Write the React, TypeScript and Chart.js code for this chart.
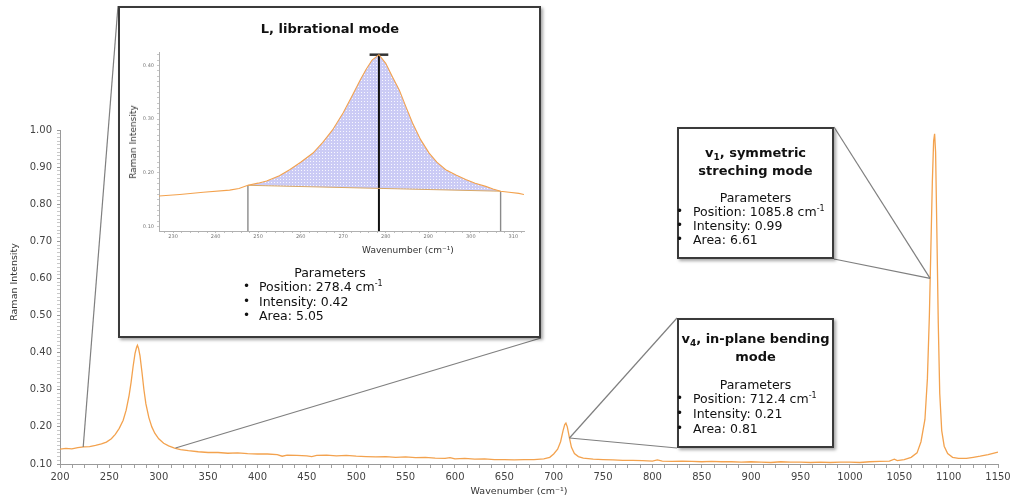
import React, { useEffect, useRef } from "react";
import { Chart, registerables } from "chart.js";

Chart.register(...registerables);

// Full Raman spectrum (wavenumber in cm⁻¹, intensity)
const wavenumbers = [
  200, 206, 212, 218, 224, 230, 236, 242, 247, 252, 256, 260, 264, 267, 270, 272, 274, 276, 277.5, 278.4,
  279.5, 281, 283, 285, 287, 290, 293, 296, 300, 305, 310, 316, 322, 330, 340, 350, 360, 370, 380, 390,
  400, 410, 420, 425, 430, 440, 450, 455, 460, 470, 480, 490, 500, 510, 520, 530, 540, 550, 560, 570,
  580, 590, 595, 600, 610, 620, 630, 640, 650, 660, 670, 680, 690, 696, 700, 704, 707, 709.5, 711.2, 712.4,
  713.8, 716, 718, 721, 725, 730, 740, 750, 760, 770, 780, 790, 800, 805, 810, 820, 830, 840, 850, 860,
  870, 880, 890, 900, 910, 920, 930, 940, 950, 960, 970, 980, 990, 1000, 1010, 1020, 1030, 1040, 1045, 1048,
  1055, 1062, 1068, 1072, 1076, 1078.5, 1080.5, 1082, 1083.5, 1084.8, 1085.8, 1086.8, 1088, 1089.5, 1091, 1093, 1095.5, 1099, 1104, 1110,
  1118, 1125, 1132, 1140, 1150,
];
const intensities = [
  0.140, 0.142, 0.141, 0.144, 0.146, 0.147, 0.150, 0.154, 0.159, 0.168, 0.180, 0.196, 0.218, 0.245, 0.285, 0.320, 0.362, 0.398, 0.414, 0.420,
  0.412, 0.392, 0.348, 0.300, 0.262, 0.225, 0.200, 0.183, 0.168, 0.156, 0.149, 0.143, 0.139, 0.136, 0.133, 0.131, 0.131, 0.129, 0.130, 0.128,
  0.127, 0.127, 0.125, 0.121, 0.124, 0.123, 0.122, 0.120, 0.123, 0.124, 0.122, 0.123, 0.121, 0.120, 0.119, 0.120, 0.118, 0.119, 0.117, 0.118,
  0.116, 0.115, 0.117, 0.114, 0.115, 0.113, 0.114, 0.112, 0.112, 0.111, 0.112, 0.112, 0.114, 0.118, 0.127, 0.140, 0.160, 0.190, 0.206, 0.210,
  0.200, 0.170, 0.145, 0.128, 0.120, 0.116, 0.113, 0.112, 0.111, 0.110, 0.110, 0.109, 0.108, 0.111, 0.108, 0.107, 0.108, 0.107, 0.106, 0.107,
  0.106, 0.106, 0.105, 0.106, 0.105, 0.104, 0.106, 0.105, 0.105, 0.104, 0.105, 0.104, 0.105, 0.105, 0.104, 0.106, 0.107, 0.108, 0.113, 0.109,
  0.112, 0.118, 0.130, 0.160, 0.220, 0.330, 0.500, 0.680, 0.860, 0.970, 0.990, 0.940, 0.740, 0.480, 0.290, 0.190, 0.148, 0.128, 0.118, 0.115,
  0.115, 0.118, 0.121, 0.125, 0.132,
];

// Close-up of the librational band with its integration baseline
const libWavenumbers = [
  226.7, 231.6, 237.1, 243.3, 245.5, 247.6, 250, 252, 255, 257.4, 260, 262.9, 265.2, 267.5, 270, 272.2, 274, 275.4, 276.8, 278.4,
  280, 281.5, 283.2, 284.8, 286.3, 288.2, 290.2, 292, 294.1, 296.5, 298.8, 301, 303.5, 305.2, 307, 309, 311.3, 312.5,
];
const libIntensities = [
  0.157, 0.160, 0.164, 0.168, 0.171, 0.177, 0.181, 0.185, 0.195, 0.206, 0.220, 0.237, 0.257, 0.280, 0.312, 0.345, 0.373, 0.393, 0.410, 0.420,
  0.404, 0.380, 0.354, 0.322, 0.293, 0.262, 0.237, 0.220, 0.206, 0.196, 0.188, 0.181, 0.175, 0.170, 0.166, 0.164, 0.162, 0.160,
];
const libBaselineX = [247.6, 307.0];
const libBaselineY = [0.177, 0.166];
const libPeakPosition = 278.4;
const libPeakIntensity = 0.42;
const libCapHalfWidth = 2.2;

// Points on the spectrum where the call-out leader lines end
const leaderLibLeft = [223.5, 0.146];
const leaderLibRight = [317, 0.143];
const leaderV4 = [716, 0.17];
const leaderV1 = [1081.2, 0.6];

// Call-out boxes (page pixels)
const insetBox = { left: 118, top: 6, right: 541, bottom: 338 };
const v1Box = { left: 677, top: 127, right: 834, bottom: 259 };
const v4Box = { left: 677, top: 318, right: 834, bottom: 448 };

const FONT = "'DejaVu Sans', Verdana, sans-serif";
const LINE_ORANGE = "#f3a24e";

const mainPlugin = {
  id: "mainDecor",
  afterDraw(chart: any) {
    const { ctx, scales } = chart;
    const px = (p: number[]) => [scales.x.getPixelForValue(p[0]), scales.y.getPixelForValue(p[1])];
    const lines: [number[], number[]][] = [
      [[insetBox.left, insetBox.top], px(leaderLibLeft)],
      [[insetBox.right, insetBox.bottom], px(leaderLibRight)],
      [[v1Box.right, v1Box.top], px(leaderV1)],
      [[v1Box.right, v1Box.bottom], px(leaderV1)],
      [[v4Box.left, v4Box.top], px(leaderV4)],
      [[v4Box.left, v4Box.bottom], px(leaderV4)],
    ];
    ctx.save();
    ctx.strokeStyle = "#7f7f7f";
    ctx.lineWidth = 1.2;
    for (const [a, b] of lines) {
      ctx.beginPath();
      ctx.moveTo(a[0], a[1]);
      ctx.lineTo(b[0], b[1]);
      ctx.stroke();
    }
    ctx.fillStyle = "#333";
    ctx.font = `9.5px ${FONT}`;
    ctx.textAlign = "center";
    ctx.textBaseline = "middle";
    ctx.fillText("Wavenumber (cm⁻¹)", 519, 492);
    ctx.translate(15, 282);
    ctx.rotate(-Math.PI / 2);
    ctx.fillText("Raman Intensity", 0, 0);
    ctx.restore();
  },
};

function makeFillPattern(): CanvasPattern | string {
  const pc = document.createElement("canvas");
  pc.width = 3;
  pc.height = 3;
  const c = pc.getContext("2d");
  if (!c) return "#cfcff5";
  c.fillStyle = "#cbcbf5";
  c.fillRect(0, 0, 3, 3);
  c.fillStyle = "rgba(255,255,255,0.85)";
  c.fillRect(1, 1, 1, 1);
  return c.createPattern(pc, "repeat") || "#cfcff5";
}

const insetFillPlugin = {
  id: "bandFill",
  beforeDatasetsDraw(chart: any) {
    const { ctx, scales, chartArea } = chart;
    const x0 = libBaselineX[0];
    const x1 = libBaselineX[1];
    ctx.save();
    ctx.beginPath();
    ctx.rect(chartArea.left, chartArea.top, chartArea.right - chartArea.left, chartArea.bottom - chartArea.top);
    ctx.clip();
    ctx.beginPath();
    let first = true;
    libWavenumbers.forEach((w, i) => {
      if (w < x0 || w > x1) return;
      const X = scales.x.getPixelForValue(w);
      const Y = scales.y.getPixelForValue(libIntensities[i]);
      if (first) {
        ctx.moveTo(X, Y);
        first = false;
      } else ctx.lineTo(X, Y);
    });
    ctx.lineTo(scales.x.getPixelForValue(x1), scales.y.getPixelForValue(libBaselineY[1]));
    ctx.lineTo(scales.x.getPixelForValue(x0), scales.y.getPixelForValue(libBaselineY[0]));
    ctx.closePath();
    ctx.fillStyle = chart.$bandPattern || "#cfcff5";
    ctx.fill();
    ctx.restore();
  },
};

const T = ({ x, y, children, style }: any) => (
  <div
    style={{
      position: "absolute",
      left: x,
      top: y,
      transform: "translateY(-50%)",
      whiteSpace: "nowrap",
      fontFamily: FONT,
      color: "#111",
      zIndex: 3,
      ...style,
    }}
  >
    {children}
  </div>
);

const Centered = ({ cx, y, children, style }: any) => (
  <div
    style={{
      position: "absolute",
      left: cx - 150,
      width: 300,
      top: y,
      transform: "translateY(-50%)",
      textAlign: "center",
      whiteSpace: "nowrap",
      fontFamily: FONT,
      color: "#111",
      zIndex: 3,
      ...style,
    }}
  >
    {children}
  </div>
);

const Sup = ({ children }: any) => (
  <span style={{ fontSize: 8, position: "relative", top: -5 }}>{children}</span>
);
const Sub = ({ children }: any) => (
  <span style={{ fontSize: 9, position: "relative", top: 3 }}>{children}</span>
);

const Box = ({ b }: any) => (
  <div
    style={{
      position: "absolute",
      left: b.left,
      top: b.top,
      width: b.right - b.left,
      height: b.bottom - b.top,
      boxSizing: "border-box",
      border: "2px solid #3a3a3a",
      background: "#fff",
      boxShadow: "2px 2px 3px rgba(0,0,0,0.35)",
      zIndex: 1,
    }}
  />
);

const ParamList = ({ x, textX, y0, dy, items }: any) => (
  <>
    {items.map((it: any, i: number) => (
      <React.Fragment key={i}>
        <T x={x} y={y0 + i * dy} style={{ fontSize: 12 }}>•</T>
        <T x={textX} y={y0 + i * dy} style={{ fontSize: 12.5 }}>{it}</T>
      </React.Fragment>
    ))}
  </>
);

export default function App() {
  const mainRef = useRef<HTMLCanvasElement>(null);
  const insetRef = useRef<HTMLCanvasElement>(null);

  useEffect(() => {
    if (!mainRef.current || !insetRef.current) return;

    const main = new Chart(mainRef.current, {
      type: "line",
      data: {
        datasets: [
          {
            data: wavenumbers.map((x, i) => ({ x, y: intensities[i] })),
            borderColor: LINE_ORANGE,
            borderWidth: 1.3,
            pointRadius: 0,
            tension: 0,
            fill: false,
          },
        ],
      },
      options: {
        responsive: false,
        animation: false,
        events: [],
        layout: { padding: { left: 0, right: 16, top: 130, bottom: 0 } },
        plugins: { legend: { display: false }, tooltip: { enabled: false } },
        scales: {
          x: {
            type: "linear",
            min: 200,
            max: 1150,
            afterFit: (s: any) => {
              s.height = 35;
            },
            border: { color: "#9a9a9a", width: 1 },
            grid: { drawOnChartArea: false, tickLength: 4, tickColor: "#a0a0a0" },
            ticks: {
              stepSize: 12.5,
              autoSkip: false,
              maxRotation: 0,
              padding: 3,
              color: "#444",
              font: { family: FONT, size: 10 },
              callback: (v: any) => (Math.abs(v % 50) < 1e-6 ? String(v) : ""),
            },
          },
          y: {
            type: "linear",
            min: 0.1,
            max: 1.0,
            afterFit: (s: any) => {
              s.width = 60;
            },
            border: { color: "#9a9a9a", width: 1 },
            grid: {
              drawOnChartArea: false,
              tickLength: 3,
              tickColor: (c: any) => (Math.round(c.tick.value * 100) % 10 === 0 ? "#999" : "#c8c8c8"),
            },
            ticks: {
              stepSize: 0.01,
              autoSkip: false,
              padding: 5,
              color: "#444",
              font: { family: FONT, size: 10 },
              callback: (v: any) => {
                const r = Math.round(v * 100);
                return r % 10 === 0 ? (r / 100).toFixed(2) : "";
              },
            },
          },
        },
      },
      plugins: [mainPlugin],
    } as any);

    const yBottom = 0.092;
    const inset = new Chart(insetRef.current, {
      type: "line",
      data: {
        datasets: [
          {
            data: libWavenumbers.map((x, i) => ({ x, y: libIntensities[i] })),
            borderColor: LINE_ORANGE,
            borderWidth: 1.1,
            pointRadius: 0,
            fill: false,
          },
          {
            data: libBaselineX.map((x, i) => ({ x, y: libBaselineY[i] })),
            borderColor: "#d8a868",
            borderWidth: 1,
            pointRadius: 0,
            fill: false,
          },
          {
            data: [
              { x: libBaselineX[0], y: yBottom },
              { x: libBaselineX[0], y: libBaselineY[0] },
            ],
            borderColor: "#8a8a8a",
            borderWidth: 1.4,
            pointRadius: 0,
            fill: false,
          },
          {
            data: [
              { x: libBaselineX[1], y: yBottom },
              { x: libBaselineX[1], y: libBaselineY[1] },
            ],
            borderColor: "#8a8a8a",
            borderWidth: 1.4,
            pointRadius: 0,
            fill: false,
          },
          {
            data: [
              { x: libPeakPosition, y: yBottom },
              { x: libPeakPosition, y: libPeakIntensity },
            ],
            borderColor: "#111",
            borderWidth: 2,
            pointRadius: 0,
            fill: false,
          },
          {
            data: [
              { x: libPeakPosition - libCapHalfWidth, y: libPeakIntensity },
              { x: libPeakPosition + libCapHalfWidth, y: libPeakIntensity },
            ],
            borderColor: "#333",
            borderWidth: 2.5,
            pointRadius: 0,
            fill: false,
          },
        ],
      },
      options: {
        responsive: false,
        animation: false,
        events: [],
        layout: { padding: { left: 0, right: 6, top: 12, bottom: 0 } },
        plugins: { legend: { display: false }, tooltip: { enabled: false } },
        scales: {
          x: {
            type: "linear",
            min: 226.7,
            max: 312.5,
            afterFit: (s: any) => {
              s.height = 14;
            },
            border: { color: "#b0b0b0", width: 1 },
            grid: { drawOnChartArea: false, tickLength: 2, tickColor: "#c0c0c0" },
            ticks: {
              stepSize: 2,
              includeBounds: false,
              autoSkip: false,
              maxRotation: 0,
              padding: 1,
              color: "#777",
              font: { family: FONT, size: 5 },
              callback: (v: any) => (Math.abs(v % 10) < 1e-6 ? String(v) : ""),
            },
          },
          y: {
            type: "linear",
            min: yBottom,
            max: 0.425,
            afterFit: (s: any) => {
              s.width = 39;
            },
            border: { color: "#b0b0b0", width: 1 },
            grid: { drawOnChartArea: false, tickLength: 2, tickColor: "#c8c8c8" },
            ticks: {
              stepSize: 0.01,
              includeBounds: false,
              autoSkip: false,
              padding: 3,
              color: "#777",
              font: { family: FONT, size: 5 },
              callback: (v: any) => {
                const r = Math.round(v * 100);
                return r % 10 === 0 ? (r / 100).toFixed(2) : "";
              },
            },
          },
        },
      },
      plugins: [insetFillPlugin],
    } as any);
    (inset as any).$bandPattern = makeFillPattern();
    inset.update();

    return () => {
      main.destroy();
      inset.destroy();
    };
  }, []);

  return (
    <div style={{ position: "absolute", left: 0, top: 0, width: 1014, height: 499, background: "#fff", overflow: "hidden" }}>
      <canvas ref={mainRef} width={1014} height={499} style={{ position: "absolute", left: 0, top: 0 }} />

      <Box b={insetBox} />
      <canvas
        ref={insetRef}
        width={410}
        height={205}
        style={{ position: "absolute", left: 120, top: 40, zIndex: 2 }}
      />
      <Centered cx={330} y={28} style={{ fontWeight: "bold", fontSize: 13 }}>L, librational mode</Centered>
      <T x={133} y={142} style={{ fontSize: 9, color: "#333", transform: "translate(-50%, -50%) rotate(-90deg)" }}>
        Raman Intensity
      </T>
      <Centered cx={408} y={250} style={{ fontSize: 9, color: "#333" }}>Wavenumber (cm⁻¹)</Centered>
      <Centered cx={330} y={272} style={{ fontSize: 12.5 }}>Parameters</Centered>
      <ParamList
        x={243}
        textX={259}
        y0={286}
        dy={14.5}
        items={[
          <>Position: 278.4 cm<Sup>-1</Sup></>,
          <>Intensity: 0.42</>,
          <>Area: 5.05</>,
        ]}
      />

      <Box b={v1Box} />
      <Centered cx={755.5} y={152} style={{ fontWeight: "bold", fontSize: 13 }}>
        v<Sub>1</Sub>, symmetric
      </Centered>
      <Centered cx={755.5} y={170} style={{ fontWeight: "bold", fontSize: 13 }}>streching mode</Centered>
      <Centered cx={755.5} y={197} style={{ fontSize: 12.5 }}>Parameters</Centered>
      <ParamList
        x={676}
        textX={693}
        y0={211}
        dy={14}
        items={[
          <>Position: 1085.8 cm<Sup>-1</Sup></>,
          <>Intensity: 0.99</>,
          <>Area: 6.61</>,
        ]}
      />

      <Box b={v4Box} />
      <Centered cx={755.5} y={338} style={{ fontWeight: "bold", fontSize: 13 }}>
        v<Sub>4</Sub>, in-plane bending
      </Centered>
      <Centered cx={755.5} y={356} style={{ fontWeight: "bold", fontSize: 13 }}>mode</Centered>
      <Centered cx={755.5} y={384} style={{ fontSize: 12.5 }}>Parameters</Centered>
      <ParamList
        x={676}
        textX={693}
        y0={398}
        dy={15}
        items={[
          <>Position: 712.4 cm<Sup>-1</Sup></>,
          <>Intensity: 0.21</>,
          <>Area: 0.81</>,
        ]}
      />
    </div>
  );
}
